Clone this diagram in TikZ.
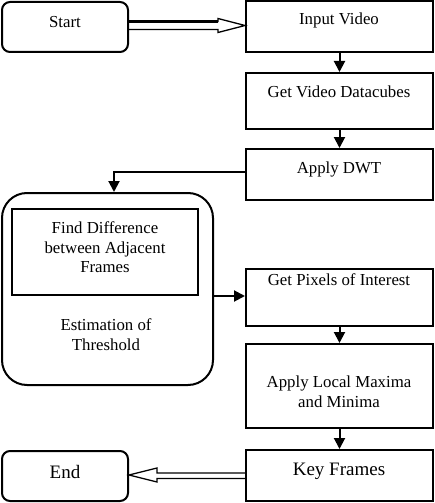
\documentclass[tikz,border=0pt]{standalone}
\usepackage{fontspec}
\setmainfont{Liberation Serif}
\usetikzlibrary{arrows.meta,calc}
\begin{document}
\begin{tikzpicture}[x=1pt,y=-1pt,
  box/.style={draw, line width=2pt, rectangle, inner sep=0pt},
  term/.style={draw, line width=2pt, rounded corners=8pt, inner sep=0pt},
  txt/.style={font=\fontsize{16.8}{19}\selectfont, anchor=base, inner sep=0pt},
  bigtxt/.style={font=\fontsize{19}{22}\selectfont, anchor=base, inner sep=0pt},
  arr/.style={line width=2pt, -{Triangle[length=11pt,width=11pt]}},
  hollow/.style={line width=1.3pt, line join=miter},
]
\useasboundingbox (0,0) rectangle (434,503);

% boxes
\node[term, minimum width=126pt, minimum height=50pt] (start) at (65,27) {};
\node[box, minimum width=187pt, minimum height=51pt] (input) at (339.5,26.5) {};
\node[box, minimum width=187pt, minimum height=56pt] (cubes) at (339.5,101) {};
\node[box, minimum width=187pt, minimum height=51pt] (dwt) at (339.5,174.5) {};
\node[draw, line width=2pt, rounded corners=25pt, inner sep=0pt, minimum width=211pt, minimum height=192pt] (big) at (107.5,289) {};
\node[box, minimum width=186pt, minimum height=86pt] (diff) at (105,252) {};
\node[box, minimum width=187pt, minimum height=57pt] (pix) at (339.5,297.5) {};
\node[box, minimum width=187pt, minimum height=84pt] (local) at (339.5,386) {};
\node[box, minimum width=187pt, minimum height=51pt] (key) at (339.5,475.5) {};
\node[term, minimum width=126pt, minimum height=50pt] (end) at (65,476) {};

% texts
\node[txt] (tstart) at (65,28) {Start};
\node[txt] (tinput) at (339,25) {Input Video};
\node[txt] (tcubes) at (339,97) {Get Video Datacubes};
\node[txt] (tdwt) at (339,173) {Apply DWT};
\node[txt] (tdiff1) at (105,233) {Find Difference};
\node[txt] (tdiff2) at (105,253) {between Adjacent};
\node[txt] (tdiff3) at (105,272) {Frames};
\node[txt] (test1) at (106,330) {Estimation of};
\node[txt] (test2) at (106,350) {Threshold};
\node[txt] (tpix) at (339,285) {Get Pixels of Interest};
\node[txt] (tloc1) at (339,387) {Apply Local Maxima};
\node[txt] (tloc2) at (339,407) {and Minima};
\node[bigtxt] (tkey) at (339,475) {Key Frames};
\node[bigtxt] (tend) at (65,478) {End};

% hollow double arrow Start -> Input Video
\coordinate (s1) at ($(start.east)+(0,-5.5)$);
\coordinate (s2) at ($(start.east)+(0,2.5)$);
\coordinate (stip) at ($(input.west)+(0,-1)$);
\draw[hollow] (s1) -- ($(stip)+(-27,-4)$) -- ($(stip)+(-27,-7)$) -- (stip)
  -- ($(stip)+(-27,7)$) -- ($(stip)+(-27,4)$) -- (s2);
\draw[line width=2.6pt] (s1) -- ($(stip)+(-27,-4)$);

% vertical arrows
\draw[arr] (input.south) -- (cubes.north);
\draw[arr] (cubes.south) -- (dwt.north);
\draw[arr] ($(dwt.west)+(0,-2.5)$) -| ($(big.north)+(6.5,0)$);
\draw[arr] ($(big.east)+(0,7)$) -- ($(pix.west)+(0,-1.5)$);
\draw[arr] (pix.south) -- (local.north);
\draw[arr] (local.south) -- (key.north);

% hollow double arrow Key Frames -> End
\coordinate (k1) at ($(key.west)+(0,-2.5)$);
\coordinate (k2) at ($(key.west)+(0,3)$);
\coordinate (etip) at ($(end.east)+(0,-1)$);
\draw[hollow] (k1) -- ($(etip)+(28,-2)$) -- ($(etip)+(28,-7)$) -- (etip)
  -- ($(etip)+(28,7)$) -- ($(etip)+(28,3.5)$) -- (k2);
\end{tikzpicture}
\end{document}
